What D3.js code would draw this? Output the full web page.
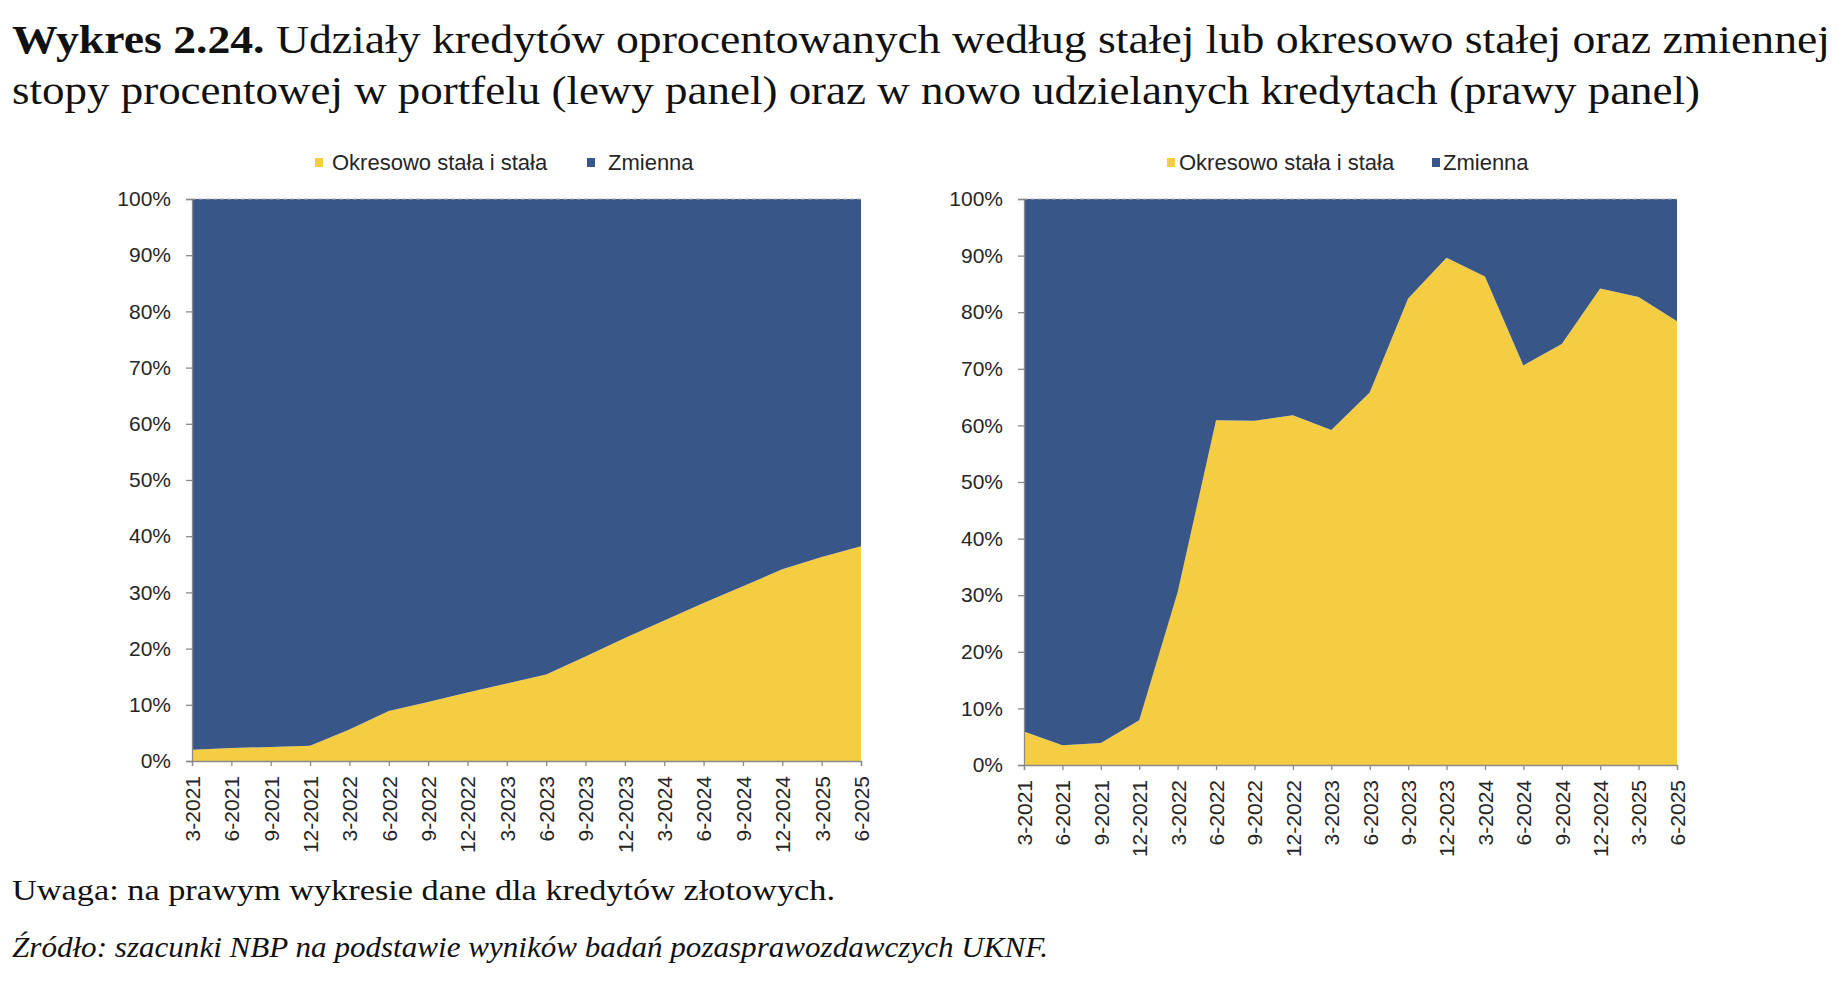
<!DOCTYPE html>
<html>
<head>
<meta charset="utf-8">
<script src="https://cdn.jsdelivr.net/npm/d3@7"></script>
<style>
  html, body { margin: 0; padding: 0; background: #fff; }
  svg { display: block; }
</style>
</head>
<body>
<svg id="chart" width="1848" height="982"></svg>
<script>
// ---------- DATA ----------
const quarters = ["3-2021","6-2021","9-2021","12-2021","3-2022","6-2022","9-2022","12-2022",
  "3-2023","6-2023","9-2023","12-2023","3-2024","6-2024","9-2024","12-2024","3-2025","6-2025"];
const seriesNames = ["Okresowo stała i stała", "Zmienna"];
// left panel: portfolio
const portfolioFixed    = [2.0, 2.3, 2.5, 2.7, 5.6, 8.9, 10.5, 12.2, 13.8, 15.4, 18.6, 21.9, 25.0, 28.1, 31.1, 34.1, 36.3, 38.2];
const portfolioVariable = [98.0, 97.7, 97.5, 97.3, 94.4, 91.1, 89.5, 87.8, 86.2, 84.6, 81.4, 78.1, 75.0, 71.9, 68.9, 65.9, 63.7, 61.8];
// right panel: new loans
const newFixed    = [5.9, 3.5, 3.9, 7.9, 30.5, 60.9, 60.8, 61.8, 59.2, 65.8, 82.4, 89.6, 86.3, 70.6, 74.4, 84.2, 82.7, 78.4];
const newVariable = [94.1, 96.5, 96.1, 92.1, 69.5, 39.1, 39.2, 38.2, 40.8, 34.2, 17.6, 10.4, 13.7, 29.4, 25.6, 15.8, 17.3, 21.6];
const yTicks = [0,10,20,30,40,50,60,70,80,90,100];
const titleBold = "Wykres 2.24.";
const titleRest1 = " Udziały kredytów oprocentowanych według stałej lub okresowo stałej oraz zmiennej";
const titleLine2 = "stopy procentowej w portfelu (lewy panel) oraz w nowo udzielanych kredytach (prawy panel)";
const noteText = "Uwaga: na prawym wykresie dane dla kredytów złotowych.";
const sourceText = "Źródło: szacunki NBP na podstawie wyników badań pozasprawozdawczych UKNF.";

// ---------- STYLE ----------
const YELLOW = "#F5CD43";
const BLUE = "#385687";
const AXIS = "#8a8a8a";
const TEXT = "#262626";
const SANS = "'Liberation Sans', Arial, sans-serif";
const SERIF = "'Liberation Serif', 'Times New Roman', serif";

const svg = d3.select("#chart");

// ---------- TITLE ----------
const t1 = svg.append("text")
  .attr("x", 12).attr("y", 53)
  .attr("font-family", SERIF).attr("font-size", 40).attr("fill", "#111")
  .attr("textLength", 1818).attr("lengthAdjust", "spacingAndGlyphs");
t1.append("tspan").attr("font-weight", "bold").text(titleBold);
t1.append("tspan").text(titleRest1);

svg.append("text")
  .attr("x", 12).attr("y", 104)
  .attr("font-family", SERIF).attr("font-size", 40).attr("fill", "#111")
  .attr("textLength", 1688).attr("lengthAdjust", "spacingAndGlyphs")
  .text(titleLine2);

svg.append("text")
  .attr("x", 12).attr("y", 900)
  .attr("font-family", SERIF).attr("font-size", 30).attr("fill", "#111")
  .attr("textLength", 823).attr("lengthAdjust", "spacingAndGlyphs")
  .text(noteText);

svg.append("text")
  .attr("x", 12).attr("y", 957)
  .attr("font-family", SERIF).attr("font-size", 30).attr("font-style", "italic").attr("fill", "#111")
  .attr("textLength", 1036).attr("lengthAdjust", "spacingAndGlyphs")
  .text(sourceText);

// ---------- PANEL ----------
function panel(cfg) {
  const rows = quarters.map((q, i) => ({ q, fixed: cfg.fixed[i], variable: cfg.variable[i] }));
  const stack = d3.stack().keys(["fixed", "variable"]);
  const layers = stack(rows);

  const x = d3.scalePoint().domain(quarters).range([cfg.x0, cfg.x1]).padding(0);
  const y = d3.scaleLinear().domain([0, 100]).range([cfg.y1, cfg.y0]);

  const area = d3.area()
    .x(d => x(d.data.q))
    .y0(d => y(d[0]))
    .y1(d => y(Math.min(100, d[1])))
    .curve(d3.curveLinear);

  const g = svg.append("g");
  g.selectAll("path.layer").data(layers).join("path")
    .attr("class", "layer")
    .attr("fill", (d, i) => i === 0 ? YELLOW : BLUE)
    .attr("d", area);

  // dashed gridline at 100%
  g.append("line")
    .attr("x1", cfg.x0).attr("x2", cfg.x1)
    .attr("y1", y(100)).attr("y2", y(100))
    .attr("stroke", "#b0b0b0").attr("stroke-width", 1.2)
    .attr("stroke-dasharray", "4,3");

  // y axis
  const yAxis = d3.axisLeft(y).tickValues(yTicks).tickSize(6).tickPadding(15)
    .tickFormat(d => d + "%");
  const ya = g.append("g").attr("transform", `translate(${cfg.x0},0)`).call(yAxis);
  ya.select(".domain").attr("stroke", AXIS).attr("stroke-width", 1.3);
  ya.selectAll(".tick line").attr("stroke", AXIS).attr("stroke-width", 1.3);
  ya.selectAll(".tick text").attr("font-family", SANS).attr("font-size", 21).attr("fill", TEXT);

  // x axis
  const xAxis = d3.axisBottom(x).tickSize(5).tickPadding(10);
  const xa = g.append("g").attr("transform", `translate(0,${cfg.y1})`).call(xAxis);
  xa.select(".domain").attr("stroke", AXIS).attr("stroke-width", 1.3);
  xa.selectAll(".tick line").attr("stroke", AXIS).attr("stroke-width", 1.3);
  xa.selectAll(".tick text")
    .attr("font-family", SANS).attr("font-size", 21).attr("fill", TEXT)
    .attr("transform", "rotate(-90)")
    .attr("text-anchor", "end")
    .attr("x", -15).attr("y", 0).attr("dy", "0.35em");

  // legend
  const lg = svg.append("g").attr("font-family", SANS).attr("font-size", 22).attr("fill", TEXT);
  cfg.legend.forEach((L, i) => {
    lg.append("rect").attr("x", L.sx).attr("y", 158).attr("width", 8).attr("height", 9)
      .attr("fill", i === 0 ? YELLOW : BLUE);
    lg.append("text").attr("x", L.tx).attr("y", 170).text(seriesNames[i]);
  });
}

panel({ fixed: portfolioFixed, variable: portfolioVariable,
  x0: 192, x1: 861, y0: 199, y1: 761,
  legend: [{ sx: 315, tx: 332 }, { sx: 587, tx: 608 }] });

panel({ fixed: newFixed, variable: newVariable,
  x0: 1024, x1: 1677, y0: 199, y1: 765,
  legend: [{ sx: 1167, tx: 1179 }, { sx: 1432, tx: 1443 }] });
</script>
</body>
</html>
